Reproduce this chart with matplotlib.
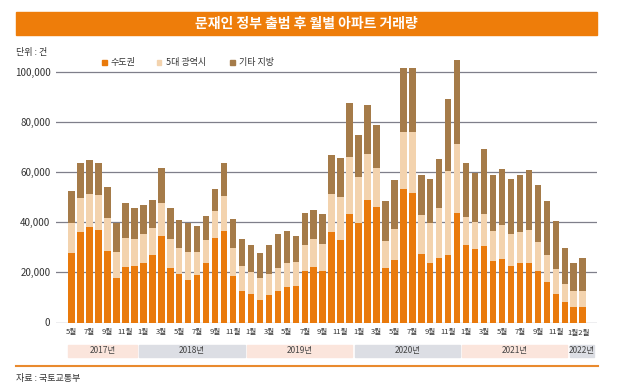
import matplotlib.pyplot as plt
from matplotlib.patches import Rectangle
import numpy as np

plt.rcParams['font.family'] = ['Noto Sans CJK KR', 'DejaVu Sans']

# monthly apartment transactions, May 2017 - Feb 2022
years = ['2017년', '2018년', '2019년', '2020년', '2021년', '2022년']
months_per_year = [list(range(5, 13)), list(range(1, 13)), list(range(1, 13)),
                   list(range(1, 13)), list(range(1, 13)), [1, 2]]

capital = [27900, 36300, 38000, 36800, 28500, 17700, 22100, 22700,
           23900, 27100, 34700, 21700, 19300, 16900, 18800, 23900, 33900, 36700, 18700, 12700,
           11500, 8900, 10800, 12700, 14100, 14500, 20700, 22300, 20500, 36300, 32800, 43200,
           39600, 48900, 46300, 21700, 24900, 53200, 51900, 27300, 23900, 25700, 27100, 43900,
           30800, 29500, 30500, 24500, 25500, 22700, 23700, 23700, 20400, 16000, 11500, 8300,
           6300, 6000]
metro = [11700, 13600, 13300, 14000, 13400, 10300, 11500, 10500,
         11400, 10500, 12900, 11600, 10300, 11100, 9500, 9000, 10600, 13800, 11200, 10000,
         8600, 8700, 8700, 9200, 9500, 9600, 10400, 11000, 11000, 15000, 17200, 22800,
         18400, 18400, 15300, 10700, 12600, 22800, 24400, 15600, 15800, 20200, 33400, 27400,
         11500, 10800, 13000, 11900, 13600, 12600, 12400, 13100, 11600, 10800, 10000, 7200,
         6100, 6500]
others = [12900, 14000, 13600, 13100, 12400, 11700, 14100, 12500,
          11500, 11200, 14000, 12600, 11500, 11600, 10200, 9600, 8700, 13400, 11300, 10600,
          10800, 10100, 11400, 13400, 13100, 10400, 12800, 11600, 11700, 15500, 15900, 21600,
          17100, 19500, 17300, 16000, 19600, 25600, 25300, 15900, 17500, 19400, 28700, 33700,
          21600, 19300, 25800, 22400, 22100, 21900, 22700, 24000, 22900, 21600, 19000, 14400,
          11500, 13100]

series_names = ['수도권', '5대 광역시', '기타 지방']
colors = ['#E97A0C', '#F3D3AE', '#A57B49']
band_colors = ['#FBE5DC', '#DCDEE4']

W, H = 630, 387
fig = plt.figure(figsize=(W / 100, H / 100), dpi=100)


def fx(px):
    return px / W


def fy(py):
    return 1 - py / H


# title banner
fig.patches.append(Rectangle((fx(16), fy(35)), fx(597) - fx(16), fy(12) - fy(35),
                             transform=fig.transFigure, color='#EE7D0A', zorder=0))
fig.text(fx(306), fy(23.5), '문재인 정부 출범 후 월별 아파트 거래량', color='white',
         fontsize=10, fontweight='bold', ha='center', va='center')

# plot area: 0 at y=322.5px, 100,000 at y=72.3px
ymax = 110000
px_per = (322.5 - 72.3) / 100000
ax = fig.add_axes([fx(56), fy(322.5), fx(597) - fx(56), ymax * px_per / H])

x = np.arange(len(capital))
bottom = np.zeros(len(x))
for vals, c in zip([capital, metro, others], colors):
    ax.bar(x, vals, width=0.72, bottom=bottom, color=c, linewidth=0, zorder=3)
    bottom += np.array(vals)

ax.set_xlim(-1.75, 58.6)
ax.set_ylim(0, ymax)
ax.set_yticks(range(0, 100001, 20000))
ax.set_yticklabels([f'{v:,}' for v in range(0, 100001, 20000)], fontsize=7, color='#333333')
ax.tick_params(axis='y', length=0, pad=4)
for v in range(0, 100001, 20000):
    ax.axhline(v, color='#7F7F8A', lw=0.9, zorder=1)
for s in ax.spines.values():
    s.set_visible(False)

# month tick labels (every second month; the last two share one label)
labels = []
for ms in months_per_year:
    labels += [f'{m}월' for m in ms]
n = len(labels)
tick_idx = [i for i in range(n - 2) if i % 2 == 0]
ax.set_xticks(tick_idx)
ax.set_xticklabels([labels[i] for i in tick_idx], fontsize=5.5, color='#333333')
ax.tick_params(axis='x', length=0, pad=4)
month_y = -(332.5 - 322.5) / (ymax * px_per)
ax.text(n - 1.5, month_y, labels[n - 2] + labels[n - 1], transform=ax.get_xaxis_transform(),
        fontsize=5.5, color='#333333', ha='center', va='center')

# year bands below the month labels
trans = ax.get_xaxis_transform()
band_top = (322.5 - 345) / (ymax * px_per)
band_h = 12 / (ymax * px_per)
start = 0
for k, (yr, ms) in enumerate(zip(years, months_per_year)):
    end = start + len(ms) - 1
    x0 = start - 0.45
    x1 = end + 0.3 if k < len(years) - 1 else 58.3
    ax.add_patch(Rectangle((x0, band_top - band_h), x1 - x0, band_h, transform=trans,
                           color=band_colors[k % 2], clip_on=False, zorder=2))
    ax.text((x0 + x1) / 2, band_top - band_h / 2, yr, transform=trans, fontsize=6,
            ha='center', va='center', color='#444444')
    start = end + 1

# unit label and legend
fig.text(fx(16), fy(53), '단위 : 건', fontsize=6.5, color='#333333', va='center')
leg_x = [101.5, 156.5, 230]
for lx, name, c in zip(leg_x, series_names, colors):
    fig.patches.append(Rectangle((fx(lx), fy(65)), fx(5), 5 / H,
                                 transform=fig.transFigure, color=c))
    fig.text(fx(lx + 9), fy(62.5), name, fontsize=6.5, color='#333333', va='center')

# bottom rule and source
fig.add_artist(plt.Line2D([fx(16), fx(598)], [fy(366), fy(366)],
                          transform=fig.transFigure, color='#E98A2E', lw=1.5))
fig.text(fx(16), fy(378), '자료 : 국토교통부', fontsize=6.5, color='#333333', va='center')

fig.savefig('out.png', dpi=100, facecolor='white')
